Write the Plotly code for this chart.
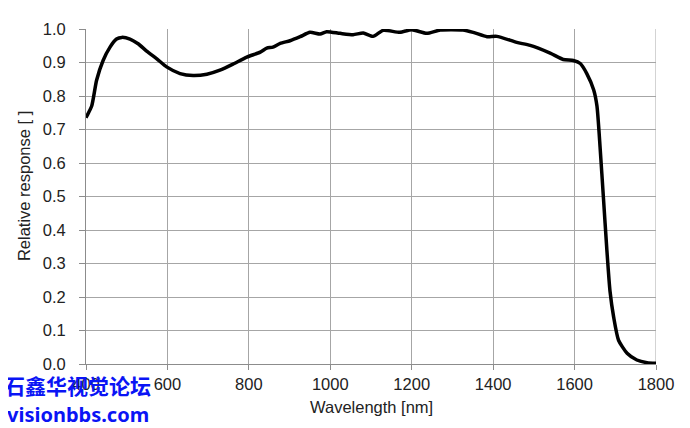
import plotly.graph_objects as go

wavelength = [400, 402, 414, 426, 442, 459, 475, 488, 508, 528, 549, 574, 598, 631, 663, 697,
              729, 761, 795, 828, 844, 859, 877, 901, 926, 950, 975, 991, 1024, 1056, 1081,
              1105, 1130, 1171, 1200, 1237, 1270, 1326, 1351, 1385, 1409, 1458, 1491, 1540,
              1572, 1597, 1614, 1630, 1647, 1655, 1663, 1671, 1679, 1687, 1696, 1708, 1729,
              1753, 1778, 1800]
response = [0.735, 0.74, 0.77, 0.847, 0.906, 0.946, 0.97, 0.975, 0.97, 0.956, 0.934, 0.911,
            0.887, 0.867, 0.861, 0.865, 0.877, 0.895, 0.916, 0.931, 0.943, 0.946, 0.957,
            0.965, 0.977, 0.99, 0.985, 0.992, 0.987, 0.983, 0.988, 0.978, 0.996, 0.99, 0.998,
            0.987, 0.997, 0.997, 0.99, 0.977, 0.978, 0.96, 0.951, 0.928, 0.909, 0.906, 0.897,
            0.867, 0.818, 0.77, 0.641, 0.494, 0.346, 0.218, 0.14, 0.071, 0.032, 0.012, 0.004,
            0.002]

x_ticks = [400, 600, 800, 1000, 1200, 1400, 1600, 1800]
y_ticks = [0.0, 0.1, 0.2, 0.3, 0.4, 0.5, 0.6, 0.7, 0.8, 0.9, 1.0]

fig = go.Figure()
fig.add_trace(go.Scatter(x=wavelength, y=response, mode="lines",
                         line=dict(color="black", width=3.5, shape="spline", smoothing=0.6),
                         showlegend=False, hoverinfo="skip"))

font = "Liberation Sans, Arial, sans-serif"
PW, PH = 570, 339
fig.update_layout(
    width=690, height=428,
    margin=dict(l=78, r=42, t=17, b=72),
    paper_bgcolor="white", plot_bgcolor="white",
    font=dict(family=font, size=16.5, color="#222222"),
    xaxis=dict(range=[400, 1800], tickvals=x_ticks, ticktext=[str(v) for v in x_ticks],
               showgrid=True, gridcolor="#a6a6a6", gridwidth=1,
               showline=True, linecolor="#8c8c8c", linewidth=1, mirror=False,
               ticks="outside", ticklen=5, tickcolor="#8c8c8c", ticklabelstandoff=0,
               zeroline=False),
    yaxis=dict(range=[0, 1.0], tickvals=y_ticks, ticktext=[f"{v:.1f}" for v in y_ticks],
               showgrid=True, gridcolor="#a6a6a6", gridwidth=1,
               showline=True, linecolor="#8c8c8c", linewidth=1,
               ticks="outside", ticklen=6, tickcolor="#8c8c8c", ticklabelstandoff=10,
               zeroline=False),
)
# right border line at 1800
fig.add_shape(type="line", xref="x", yref="paper", x0=1800, x1=1800, y0=0, y1=1,
              line=dict(color="#a6a6a6", width=1), layer="below")

# axis titles
fig.add_annotation(text="Wavelength [nm]", xref="paper", yref="paper",
                   x=0.5, y=-44/PH, xanchor="center", yanchor="middle", showarrow=False,
                   font=dict(size=16.5, color="#222222"))
fig.add_annotation(text="Relative response [ ]", xref="paper", yref="paper",
                   x=-62.5/PW, y=(356-176.5)/PH, xanchor="center", yanchor="middle",
                   textangle=-90, showarrow=False, font=dict(size=16.5, color="#222222"))

# watermark
fig.add_annotation(text="<b>石鑫华视觉论坛</b>", xref="paper", yref="paper",
                   x=-84/PW, y=-21/PH, xanchor="left", yanchor="middle", showarrow=False,
                   font=dict(family="Noto Sans CJK SC", size=21, color="#0a14f5"))
fig.add_annotation(text="<b>visionbbs.com</b>", xref="paper", yref="paper",
                   x=-81/PW, y=-51/PH, xanchor="left", yanchor="middle", showarrow=False,
                   font=dict(family="Noto Sans, DejaVu Sans, sans-serif", size=20, color="#0a14f5"))

fig.write_html("out.html")
